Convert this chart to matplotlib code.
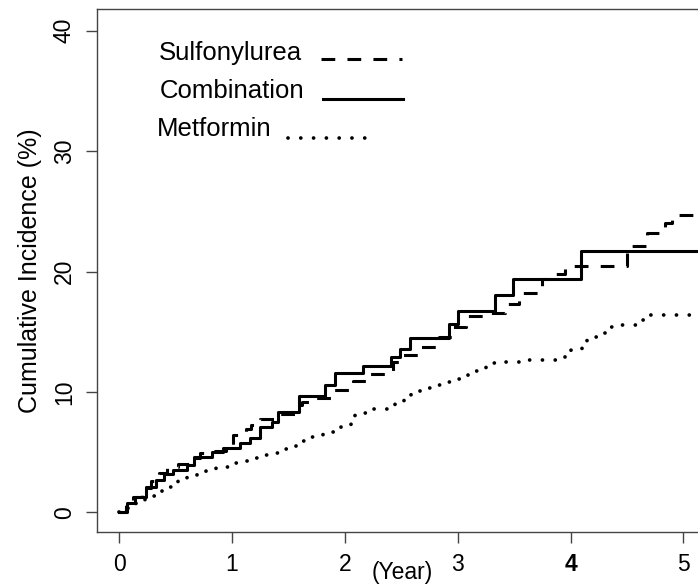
import matplotlib.pyplot as plt
from matplotlib.lines import Line2D

plt.rcParams['font.family'] = ['Liberation Sans', 'DejaVu Sans']

# step times (years) and cumulative incidence (%)
sulf_years = [0, 0.06, 0.12, 0.2, 0.28, 0.35, 0.42, 0.52, 0.62, 0.72, 0.85, 0.95, 1.01, 1.12, 1.17,
              1.25, 1.42, 1.56, 1.62, 1.74, 1.88, 2.07, 2.2, 2.43, 2.5, 2.65, 2.83, 2.95, 3.07, 3.22,
              3.42, 3.54, 3.75, 3.82, 3.95, 4.5, 4.68, 4.84, 4.9, 5.5]
sulf_inc = [0, 0.6, 1.3, 2.0, 2.6, 3.3, 3.8, 4.0, 4.5, 4.9, 5.1, 5.6, 6.4, 6.9, 7.3,
            7.75, 8.2, 8.9, 9.2, 9.5, 10.2, 10.9, 11.5, 12.5, 13.1, 13.75, 14.6, 15.4, 16.3, 16.6,
            17.3, 18.2, 19.4, 19.8, 20.5, 22.1, 23.2, 24.0, 24.7, 24.7]

comb_years = [0, 0.065, 0.14, 0.24, 0.33, 0.40, 0.48, 0.60, 0.66, 0.82, 0.92, 1.07, 1.16, 1.25,
              1.35, 1.41, 1.59, 1.82, 1.91, 2.16, 2.41, 2.49, 2.58, 2.92, 3.0, 3.33, 3.49, 4.09, 5.5]
comb_inc = [0, 0.76, 1.32, 2.09, 2.7, 3.2, 3.5, 3.95, 4.64, 5.05, 5.33, 5.75, 6.17, 7.13,
            7.55, 8.38, 9.63, 10.6, 11.57, 12.18, 12.95, 13.6, 14.48, 15.67, 16.7, 18.08, 19.38, 21.68, 21.68]

metf_years = [0, 0.08, 0.15, 0.23, 0.30, 0.38, 0.45, 0.52, 0.6, 0.69, 0.77, 0.86, 0.97, 1.05, 1.14,
              1.22, 1.31, 1.43, 1.57, 1.69, 1.81, 1.97, 2.05, 2.09, 2.22, 2.37, 2.44, 2.52, 2.59,
              2.67, 2.77, 2.86, 2.95, 3.03, 3.09, 3.18, 3.25, 3.35, 3.6, 3.88, 3.95, 4.0, 4.1,
              4.15, 4.28, 4.33, 4.45, 4.6, 4.7, 5.5]
metf_inc = [0, 0.4, 0.8, 1.1, 1.4, 1.75, 2.1, 2.6, 3.0, 3.3, 3.5, 3.8, 4.1, 4.3, 4.5,
            4.78, 4.95, 5.3, 5.9, 6.3, 6.7, 7.27, 7.7, 8.25, 8.6, 8.8, 9.1, 9.6, 10.0,
            10.3, 10.6, 10.85, 11.07, 11.2, 11.76, 12.0, 12.4, 12.5, 12.7, 12.9, 13.3, 13.6, 13.9,
            14.6, 14.9, 15.4, 15.6, 16.0, 16.4, 16.4]

x_ticks = [0, 1, 2, 3, 4, 5]
y_ticks = [0, 10, 20, 30, 40]

dashed = (0, (4.5, 4))
dotted = (0, (0.01, 3.4))

fig = plt.figure(figsize=(6.98, 5.85), dpi=100)
ax = fig.add_axes([0.1385, 0.0906, 0.9116, 0.894])

ax.step(sulf_years, sulf_inc, where='post', color='black', lw=2.2, linestyle=dashed)
ax.step(comb_years, comb_inc, where='post', color='black', lw=2.2)
ax.step(metf_years, metf_inc, where='post', color='black', lw=2.7, linestyle=dotted,
        dash_capstyle='round')

ax.set_xlim(-0.2, 5.44)
ax.set_ylim(-1.62, 41.8)

ax.set_xticks(x_ticks)
ax.set_xticklabels([str(t) for t in x_ticks], fontsize=16.5)
ax.get_xticklabels()[4].set_fontweight('bold')
ax.set_yticks(y_ticks)
ax.set_yticklabels([str(t) for t in y_ticks], fontsize=16.5, rotation=90, va='center')
ax.tick_params(axis='both', length=8, width=1, color='#444444', pad=7)

for side in ['left', 'bottom', 'top', 'right']:
    ax.spines[side].set_color('#444444')
    ax.spines[side].set_linewidth(1)

ax.set_ylabel('Cumulative Incidence (%)', fontsize=18, labelpad=8)
ax.text(2.51, -0.077, '(Year)', transform=ax.get_xaxis_transform(), fontsize=16.5,
        ha='center', va='center')

# hand-placed key, like the original
ax.text(0.097, 0.915, 'Sulfonylurea', transform=ax.transAxes, fontsize=18.5, va='center')
ax.text(0.099, 0.843, 'Combination', transform=ax.transAxes, fontsize=18.5, va='center')
ax.text(0.095, 0.77, 'Metformin', transform=ax.transAxes, fontsize=18.5, va='center')
ax.add_line(Line2D([0.353, 0.48], [0.905, 0.905], transform=ax.transAxes, color='black',
                   lw=2.2, linestyle=dashed))
ax.add_line(Line2D([0.356, 0.482], [0.827, 0.827], transform=ax.transAxes, color='black', lw=2.2))
ax.add_line(Line2D([0.3, 0.435], [0.754, 0.754], transform=ax.transAxes, color='black',
                   lw=2.7, linestyle=dotted, dash_capstyle='round'))

fig.savefig('out.png', dpi=100)
